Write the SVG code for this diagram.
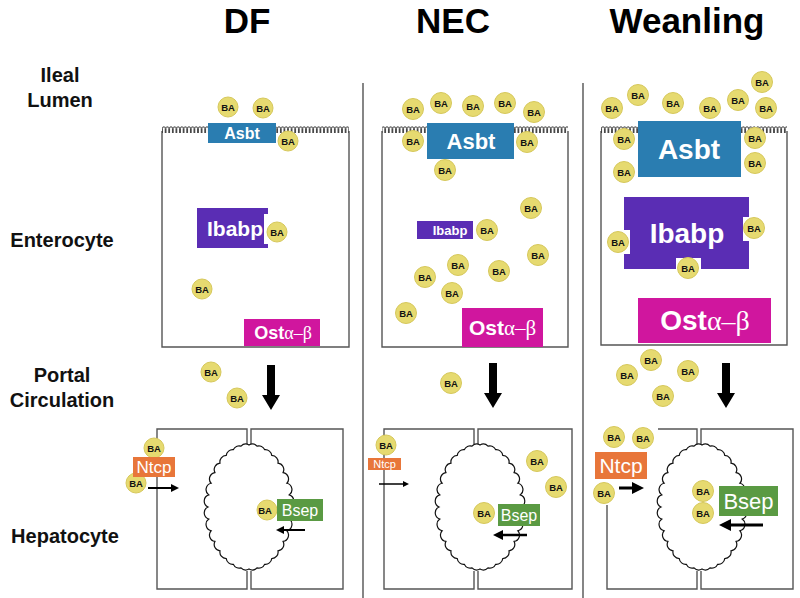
<svg xmlns="http://www.w3.org/2000/svg" width="800" height="598" viewBox="0 0 800 598">
<style>
.title{font-family:"Liberation Sans",Arial,sans-serif;font-weight:bold;font-size:35px;text-anchor:middle;fill:#000}
.lbl{font-family:"Liberation Sans",Arial,sans-serif;font-weight:bold;font-size:20px;text-anchor:middle;fill:#111}
.wall{fill:none;stroke:#555;stroke-width:1.4}
.div{stroke:#444;stroke-width:1.3}
.ba circle{fill:#e6da70;stroke:#d6c85c;stroke-width:1}
.ba text{font-family:"Liberation Sans",Arial,sans-serif;font-weight:bold;font-size:9.5px;text-anchor:middle;fill:#111}
.bt{font-family:"Liberation Sans",Arial,sans-serif;font-weight:bold;text-anchor:middle;fill:#fff}
.rt{font-family:"Liberation Sans",Arial,sans-serif;text-anchor:middle;fill:#fff}
.gr{font-family:"Liberation Serif","Times New Roman",serif;font-weight:normal}
.asbt{fill:#2a7db1}
.ibabp{fill:#5a2db4}
.ost{fill:#d0169e}
.ntcp{fill:#e8763a}
.bsep{fill:#5a9a43}
.arr{stroke:#000;fill:none;marker-end:url(#ah)}
.notch{fill:#fff}
</style>
<defs>
<pattern id="mv" x="0" y="0" width="3.6" height="7" patternUnits="userSpaceOnUse">
<path d="M0.4,7 V2.2 A1.4,1.4 0 0 1 3.2,2.2 V7" fill="none" stroke="#333" stroke-width="0.9"/>
</pattern>
<marker id="ah" viewBox="0 0 10 10" refX="0" refY="5" markerWidth="4.5" markerHeight="4" orient="auto" markerUnits="strokeWidth">
<path d="M0,0 L10,5 L0,10 z" fill="#000"/>
</marker>
<path id="bigarrow" d="M-4,-45 H4 V-15 H9 L0,0 L-9,-15 H-4 Z" fill="#000"/>
<path id="blob" fill="#fff" stroke="#111" stroke-width="1.2" d="M41,0 A6.5,6.5 0 0 1 40.21,12.10 A6.5,6.5 0 0 1 37.88,23.73 A6.5,6.5 0 0 1 34.09,34.45 A6.5,6.5 0 0 1 28.99,43.84 A6.5,6.5 0 0 1 22.78,51.55 A6.5,6.5 0 0 1 15.69,57.28 A6.5,6.5 0 0 1 8,60.81 A6.5,6.5 0 0 1 0,62 A6.5,6.5 0 0 1 -8,60.81 A6.5,6.5 0 0 1 -15.69,57.28 A6.5,6.5 0 0 1 -22.78,51.55 A6.5,6.5 0 0 1 -28.99,43.84 A6.5,6.5 0 0 1 -34.09,34.45 A6.5,6.5 0 0 1 -37.88,23.73 A6.5,6.5 0 0 1 -40.21,12.10 A6.5,6.5 0 0 1 -41,0 A6.5,6.5 0 0 1 -40.21,-12.10 A6.5,6.5 0 0 1 -37.88,-23.73 A6.5,6.5 0 0 1 -34.09,-34.45 A6.5,6.5 0 0 1 -28.99,-43.84 A6.5,6.5 0 0 1 -22.78,-51.55 A6.5,6.5 0 0 1 -15.69,-57.28 A6.5,6.5 0 0 1 -8,-60.81 A6.5,6.5 0 0 1 0,-62 A6.5,6.5 0 0 1 8,-60.81 A6.5,6.5 0 0 1 15.69,-57.28 A6.5,6.5 0 0 1 22.78,-51.55 A6.5,6.5 0 0 1 28.99,-43.84 A6.5,6.5 0 0 1 34.09,-34.45 A6.5,6.5 0 0 1 37.88,-23.73 A6.5,6.5 0 0 1 40.21,-12.10 A6.5,6.5 0 0 1 41,0 Z"/>
</defs>
<rect width="800" height="598" fill="#fff"/>

<g id="titles">
<text class="title" x="247" y="33">DF</text>
<text class="title" x="453" y="33">NEC</text>
<text class="title" x="687" y="33">Weanling</text>
</g>
<g id="row-labels">
<text class="lbl" x="60" y="82">Ileal</text>
<text class="lbl" x="60" y="107">Lumen</text>
<text class="lbl" x="62" y="247">Enterocyte</text>
<text class="lbl" x="62" y="382">Portal</text>
<text class="lbl" x="62" y="407">Circulation</text>
<text class="lbl" x="65" y="543">Hepatocyte</text>
</g>
<g id="dividers">
<line class="div" x1="363" y1="83" x2="363" y2="598"/>
<line class="div" x1="583" y1="83" x2="583" y2="598"/>
</g>

<!-- DF column -->
<g id="df-enterocyte">
<path class="wall" d="M162,131 V347 H349 V131"/>
<rect x="162" y="126" width="187" height="7" fill="url(#mv)"/>
</g>
<g id="df-asbt"><rect class="asbt" x="208" y="123" width="68" height="20"/><text class="bt" x="242" y="139" font-size="16">Asbt</text></g>
<g id="df-ibabp"><rect class="ibabp" x="197" y="208" width="71" height="40"/><rect class="notch" x="264" y="214" width="5" height="30"/><text class="bt" x="235" y="236" font-size="21">Ibabp</text></g>
<g id="df-ost"><rect class="ost" x="244" y="319" width="76" height="27"/><text class="bt" x="283" y="339" font-size="18">Ost<tspan class="gr">α–β</tspan></text></g>
<g id="df-portal-arrow"><use href="#bigarrow" transform="translate(271,410)"/></g>
<g id="df-hepatocyte">
<path class="wall" d="M247,444 V429 H157 V589 H247 V571"/>
<path class="wall" d="M251,444 V429 H343 V589 H251 V571"/>
<use href="#blob" transform="translate(249,507)"/>
</g>

<!-- NEC column -->
<g id="nec-enterocyte">
<path class="wall" d="M382,131 V347 H568 V131"/>
<rect x="382" y="126" width="186" height="7" fill="url(#mv)"/>
</g>
<g id="nec-asbt"><rect class="asbt" x="427" y="123" width="87" height="36"/><text class="bt" x="471" y="149" font-size="22">Asbt</text></g>
<g id="nec-ibabp"><rect class="ibabp" x="417" y="221" width="56" height="18"/><text class="bt" x="450" y="234.5" font-size="13">Ibabp</text></g>
<g id="nec-ost"><rect class="ost" x="462" y="308" width="81" height="39"/><text class="bt" x="502.5" y="335" font-size="21">Ost<tspan class="gr">α–β</tspan></text></g>
<g id="nec-portal-arrow"><use href="#bigarrow" transform="translate(493,408)"/></g>
<g id="nec-hepatocyte">
<path class="wall" d="M474,444 V429 H384 V589 H474 V571"/>
<path class="wall" d="M478,444 V429 H572 V589 H478 V571"/>
<use href="#blob" transform="translate(480,507)"/>
</g>

<!-- Weanling column -->
<g id="wean-enterocyte">
<path class="wall" d="M601,131 V345 H787 V131"/>
<rect x="601" y="126" width="186" height="7" fill="url(#mv)"/>
</g>
<g id="wean-asbt"><rect class="asbt" x="638" y="121" width="103" height="56"/><text class="bt" x="689" y="159" font-size="28">Asbt</text></g>
<g id="wean-ibabp"><rect class="ibabp" x="624" y="197" width="125" height="72"/>
<rect class="notch" x="623" y="230" width="7" height="24"/><rect class="notch" x="743" y="217" width="7" height="24"/><rect class="notch" x="676" y="258" width="25" height="12"/>
<text class="bt" x="687" y="243" font-size="28">Ibabp</text></g>
<g id="wean-ost"><rect class="ost" x="638" y="298" width="133" height="45"/><text class="bt" x="705" y="330" font-size="28">Ost<tspan class="gr">α–β</tspan></text></g>
<g id="wean-portal-arrow"><use href="#bigarrow" transform="translate(726,408)"/></g>
<g id="wean-hepatocyte">
<path class="wall" d="M658,429 H697 V444 M607,505 V589 H697 V571"/>
<path class="wall" d="M701,444 V429 H793 V589 H701 V571"/>
<use href="#blob" transform="translate(702,507)"/>
</g>

<!-- Bile acids -->
<g id="bile-acids" class="ba">
<g><circle cx="228" cy="107" r="10"/><text x="228" y="110.5">BA</text></g>
<g><circle cx="263" cy="108" r="10"/><text x="263" y="111.5">BA</text></g>
<g><circle cx="288" cy="141" r="10"/><text x="288" y="144.5">BA</text></g>
<g><circle cx="277" cy="232" r="10"/><text x="277" y="235.5">BA</text></g>
<g><circle cx="202" cy="289" r="10"/><text x="202" y="292.5">BA</text></g>
<g><circle cx="211" cy="372" r="10"/><text x="211" y="375.5">BA</text></g>
<g><circle cx="237" cy="398" r="10"/><text x="237" y="401.5">BA</text></g>
<g><circle cx="154" cy="448" r="10"/><text x="154" y="451.5">BA</text></g>
<g><circle cx="136" cy="483" r="10"/><text x="136" y="486.5">BA</text></g>
<g><circle cx="267" cy="510" r="10"/><text x="265" y="513.5">BA</text></g>

<g><circle cx="413" cy="109" r="10.5"/><text x="413" y="112.5">BA</text></g>
<g><circle cx="441" cy="103" r="10.5"/><text x="441" y="106.5">BA</text></g>
<g><circle cx="473" cy="106" r="10.5"/><text x="473" y="109.5">BA</text></g>
<g><circle cx="505" cy="103" r="10.5"/><text x="505" y="106.5">BA</text></g>
<g><circle cx="534" cy="112" r="10.5"/><text x="534" y="115.5">BA</text></g>
<g><circle cx="413" cy="141" r="10.5"/><text x="413" y="144.5">BA</text></g>
<g><circle cx="527" cy="142" r="10.5"/><text x="527" y="145.5">BA</text></g>
<g><circle cx="445" cy="170" r="10.5"/><text x="445" y="173.5">BA</text></g>
<g><circle cx="531" cy="208" r="10.5"/><text x="531" y="211.5">BA</text></g>
<g><circle cx="487" cy="230" r="10.5"/><text x="487" y="233.5">BA</text></g>
<g><circle cx="538" cy="255" r="10.5"/><text x="538" y="258.5">BA</text></g>
<g><circle cx="458" cy="265" r="10.5"/><text x="458" y="268.5">BA</text></g>
<g><circle cx="499" cy="271" r="10.5"/><text x="499" y="274.5">BA</text></g>
<g><circle cx="425" cy="277" r="10.5"/><text x="425" y="280.5">BA</text></g>
<g><circle cx="452" cy="293" r="10.5"/><text x="452" y="296.5">BA</text></g>
<g><circle cx="406" cy="313" r="10.5"/><text x="406" y="316.5">BA</text></g>
<g><circle cx="451" cy="383" r="10.5"/><text x="451" y="386.5">BA</text></g>
<g><circle cx="386" cy="445" r="10"/><text x="386" y="448.5">BA</text></g>
<g><circle cx="537" cy="461" r="10.5"/><text x="537" y="464.5">BA</text></g>
<g><circle cx="556" cy="487" r="10.5"/><text x="556" y="490.5">BA</text></g>
<g><circle cx="484" cy="513" r="10.5"/><text x="484" y="516.5">BA</text></g>

<g><circle cx="612" cy="108" r="10.5"/><text x="612" y="111.5">BA</text></g>
<g><circle cx="638" cy="95" r="10.5"/><text x="638" y="98.5">BA</text></g>
<g><circle cx="673" cy="103" r="10.5"/><text x="673" y="106.5">BA</text></g>
<g><circle cx="710" cy="108" r="10.5"/><text x="710" y="111.5">BA</text></g>
<g><circle cx="738" cy="100" r="10.5"/><text x="738" y="103.5">BA</text></g>
<g><circle cx="762" cy="82" r="10.5"/><text x="762" y="85.5">BA</text></g>
<g><circle cx="766" cy="108" r="10.5"/><text x="766" y="111.5">BA</text></g>
<g><circle cx="624" cy="139" r="10.5"/><text x="624" y="142.5">BA</text></g>
<g><circle cx="755" cy="138" r="10.5"/><text x="755" y="141.5">BA</text></g>
<g><circle cx="624" cy="172" r="10.5"/><text x="624" y="175.5">BA</text></g>
<g><circle cx="755" cy="163" r="10.5"/><text x="755" y="166.5">BA</text></g>
<g><circle cx="618" cy="242" r="10.5"/><text x="618" y="245.5">BA</text></g>
<g><circle cx="754" cy="228" r="10.5"/><text x="754" y="231.5">BA</text></g>
<g><circle cx="688" cy="268" r="10.5"/><text x="688" y="271.5">BA</text></g>
<g><circle cx="651" cy="360" r="10.5"/><text x="651" y="363.5">BA</text></g>
<g><circle cx="627" cy="375" r="10.5"/><text x="627" y="378.5">BA</text></g>
<g><circle cx="688" cy="371" r="10.5"/><text x="688" y="374.5">BA</text></g>
<g><circle cx="663" cy="396" r="10.5"/><text x="663" y="399.5">BA</text></g>
<g><circle cx="614" cy="437" r="10.5"/><text x="614" y="440.5">BA</text></g>
<g><circle cx="643" cy="438" r="10.5"/><text x="643" y="441.5">BA</text></g>
<g><circle cx="604" cy="493" r="10.5"/><text x="604" y="496.5">BA</text></g>
<g><circle cx="703" cy="491" r="10.5"/><text x="703" y="494.5">BA</text></g>
<g><circle cx="703" cy="513" r="10.5"/><text x="703" y="516.5">BA</text></g>
</g>

<!-- Hepatocyte transporters -->
<g id="df-ntcp"><rect class="ntcp" x="133" y="457" width="42" height="20"/><text class="rt" x="154" y="473" font-size="17">Ntcp</text></g>
<g id="df-bsep"><rect class="bsep" x="277" y="499" width="46" height="22"/><text class="rt" x="300" y="516" font-size="16">Bsep</text></g>
<g id="nec-ntcp"><rect class="ntcp" x="368" y="458" width="33" height="12"/><text class="rt" x="384.5" y="468" font-size="11">Ntcp</text></g>
<g id="nec-bsep"><rect class="bsep" x="498" y="504" width="42" height="22"/><text class="rt" x="519" y="521" font-size="16">Bsep</text></g>
<g id="wean-ntcp"><rect class="ntcp" x="595" y="452" width="52" height="27"/><text class="rt" x="621" y="473" font-size="21">Ntcp</text></g>
<g id="wean-bsep"><rect class="bsep" x="719" y="486" width="59" height="30"/><text class="rt" x="748.5" y="509" font-size="22">Bsep</text></g>

<g id="connectors">
<line class="arr" x1="148" y1="488" x2="171" y2="488" stroke-width="2"/>
<line class="arr" x1="305" y1="530" x2="284" y2="530" stroke-width="2"/>
<line class="arr" x1="379" y1="484" x2="403" y2="484" stroke-width="1.5"/>
<line class="arr" x1="527" y1="535" x2="503" y2="535" stroke-width="2.5"/>
<line class="arr" x1="619" y1="488" x2="632" y2="488" stroke-width="3"/>
<line class="arr" x1="763" y1="525" x2="731" y2="525" stroke-width="3"/>
</g>
</svg>
